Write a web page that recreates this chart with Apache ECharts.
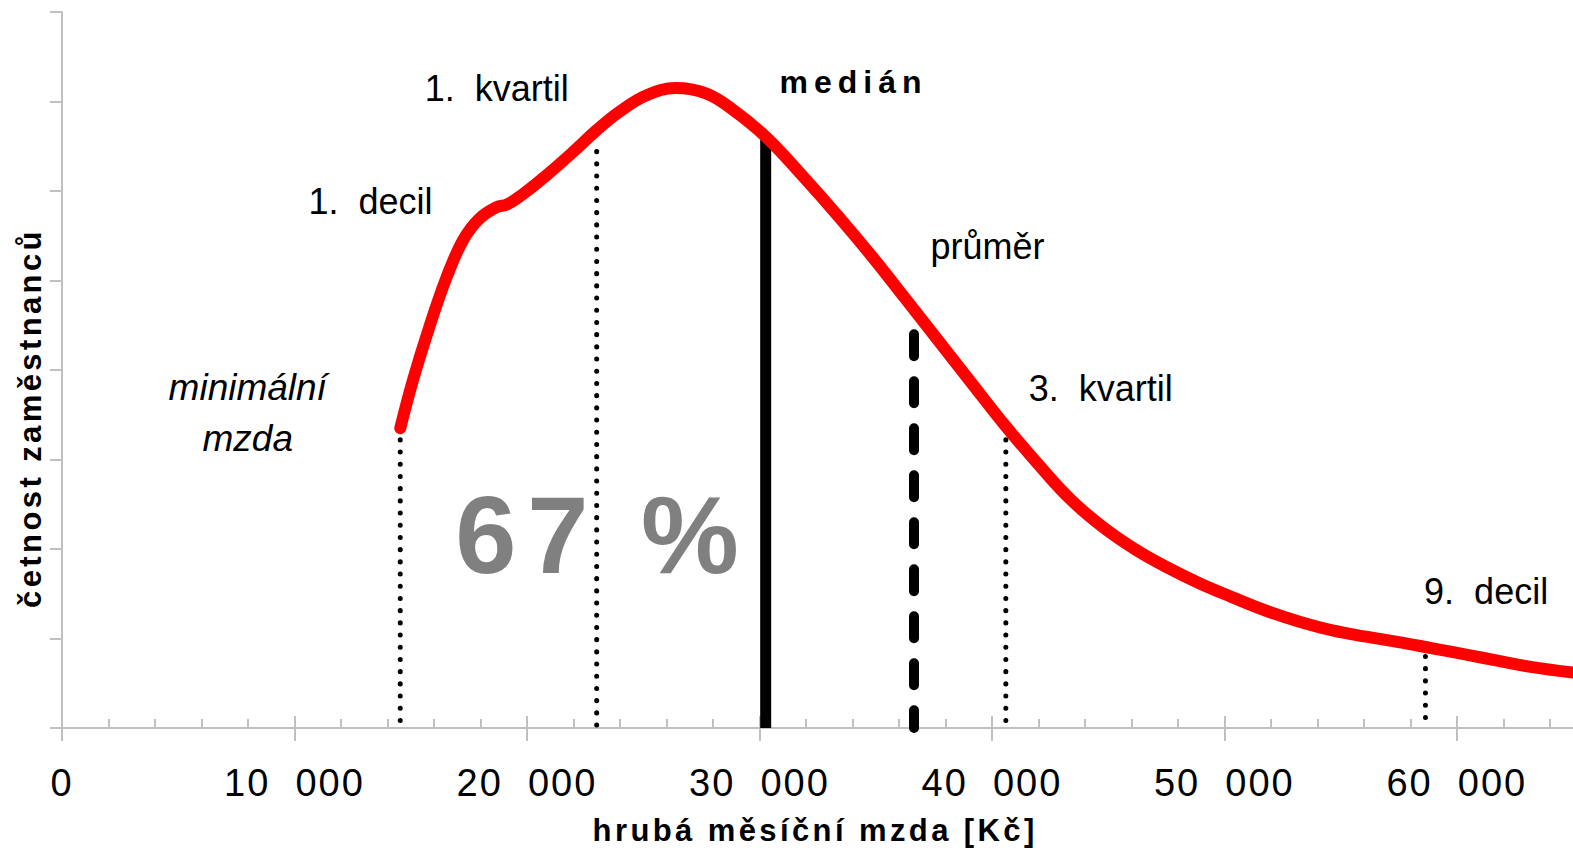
<!DOCTYPE html>
<html>
<head>
<meta charset="utf-8">
<title>Hrubá měsíční mzda</title>
<script src="https://cdn.jsdelivr.net/npm/echarts@6/dist/echarts.min.js"></script>
<style>
  html, body { margin: 0; padding: 0; background: #fff; }
  #chart { width: 1573px; height: 853px; }
  /* proložené písmo (svg renderer) */
  #chart text[style*="38px"] { letter-spacing: 2px; }
  #chart text[style*="31px"] { letter-spacing: 3.4px; }
  #chart text[style*="32px"] { letter-spacing: 6px; }
  #chart text[style*="110px"] { letter-spacing: 11px; }
</style>
</head>
<body>
<div id="chart"></div>
<script>
// křivka rozdělení mezd
const curveX = [14550, 15100, 15800, 16550, 17250, 17950, 18700, 19150, 19850, 20950,
  22000, 23000, 24000, 25150, 26400, 27700, 28850, 30300, 31850, 33450,
  34900, 36300, 37750, 39200, 40600, 42050, 43400, 44800, 46200, 47500,
  48900, 50350, 51800, 53200, 54650, 56100, 57500, 58950, 60400, 61800,
  63250, 65000];
const curveY = [3.35, 3.89, 4.48, 5.04, 5.45, 5.69, 5.82, 5.85, 5.97, 6.20,
  6.44, 6.68, 6.89, 7.07, 7.15, 7.09, 6.91, 6.60, 6.17, 5.70,
  5.25, 4.79, 4.31, 3.83, 3.37, 2.93, 2.55, 2.24, 1.99, 1.80,
  1.62, 1.46, 1.31, 1.19, 1.09, 1.02, 0.96, 0.89, 0.82, 0.75,
  0.68, 0.62];

// svislé čáry (minimální mzda, kvartily, medián, průměr, 9. decil)
const markerNames = ["minimální mzda", "1. kvartil", "medián", "průměr", "3. kvartil", "9. decil"];
const markerX = [14550, 23000, 30270, 36650, 40600, 58650];
const markerTop = [3.22, 6.44, 6.58, 4.40, 3.22, 0.80];
const markerKind = ["dotted", "dotted", "solid", "dashed", "dotted", "dotted"];

// popisky v grafu
const labelTexts = ["minimální\nmzda", "1.  decil", "1.  kvartil", "medián", "průměr", "3.  kvartil", "9.  decil", "67 %"];
const labelX = [7990, 13270, 18700, 34050, 39810, 44680, 61260, 23250];
const labelY = [3.52, 5.88, 7.15, 7.22, 5.38, 3.79, 1.52, 2.16];

// osa x
const xTicks = [0, 10000, 20000, 30000, 40000, 50000, 60000];

const FONT = "Liberation Sans";
const axisGray = "#c0c0c0";

const lineStyles = {
  dotted: { color: "#000", width: 5, type: [0.1, 12.1], cap: "round" },
  solid: { color: "#000", width: 11, type: "solid", cap: "butt" },
  dashed: { color: "#000", width: 10, type: [22, 25], cap: "round" }
};

const labelStyles = {
  "minimální\nmzda": { fontStyle: "italic", fontSize: 37, lineHeight: 51 },
  "medián": { fontWeight: "bold", fontSize: 32 },
  "67 %": { fontWeight: "bold", fontSize: 110, color: "#808080" }
};

const markerSeries = markerX.map((x, i) => ({
  type: "line",
  name: markerNames[i],
  data: [[x, markerTop[i]], [x, 0]],
  showSymbol: false,
  lineStyle: lineStyles[markerKind[i]],
  z: 2
}));

const labelData = labelTexts.map((t, i) => ({
  name: t,
  value: [labelX[i], labelY[i]],
  label: Object.assign(
    { fontSize: 36, color: "#000", textBorderWidth: 0, opacity: 1 },
    labelStyles[t] || {}
  )
}));

const titleStyle = {
  fontFamily: FONT,
  fontSize: 31,
  fontWeight: "bold",
  color: "#000"
};

const option = {
  animation: false,
  grid: {
    left: 62,
    right: -116.3,
    top: 12,
    bottom: 125,
    outerBoundsMode: "none"
  },
  xAxis: [
    {
      type: "value",
      min: 0,
      max: 70000,
      interval: 10000,
      position: "bottom",
      name: "hrubá měsíční mzda [Kč]",
      nameLocation: "middle",
      nameGap: 87,
      nameTextStyle: Object.assign({ padding: [0, 121, 0, 0] }, titleStyle),
      axisLine: { show: true, onZero: false, lineStyle: { color: axisGray, width: 2 } },
      axisTick: { show: true, inside: true, length: 12, lineStyle: { color: axisGray, width: 2 } },
      minorTick: { show: true, splitNumber: 5, length: 9, lineStyle: { color: axisGray, width: 2 } },
      axisLabel: {
        margin: 36,
        fontFamily: FONT,
        fontSize: 38,
        color: "#000",
        customValues: xTicks,
        formatter: (v) => (v === 0 ? "0" : v / 1000 + "  000")
      },
      splitLine: { show: false }
    },
    {
      // spodní část hlavních značek
      type: "value",
      min: 0,
      max: 70000,
      interval: 10000,
      position: "bottom",
      axisLine: { show: false },
      axisTick: { show: true, inside: false, length: 13, lineStyle: { color: axisGray, width: 2 } },
      axisLabel: { show: false },
      splitLine: { show: false }
    }
  ],
  yAxis: {
    type: "value",
    min: 0,
    max: 8,
    interval: 1,
    name: "četnost zaměstnanců",
    nameLocation: "middle",
    nameGap: 16,
    nameTextStyle: Object.assign({ padding: [0, 96, 0, 0] }, titleStyle),
    axisLine: { show: true, onZero: false, lineStyle: { color: axisGray, width: 2 } },
    axisTick: { show: true, length: 12, lineStyle: { color: axisGray, width: 2 } },
    axisLabel: { show: false },
    splitLine: { show: false }
  },
  textStyle: { fontFamily: FONT },
  series: [
    ...markerSeries,
    {
      type: "line",
      name: "četnost",
      data: curveX.map((x, i) => [x, curveY[i]]),
      smooth: 0.4,
      showSymbol: false,
      lineStyle: { color: "#ff0000", width: 12, cap: "round", join: "round" },
      z: 5
    },
    {
      type: "scatter",
      name: "popisky",
      data: labelData,
      symbolSize: 1,
      itemStyle: { color: "rgba(0,0,0,0)", opacity: 1 },
      label: {
        show: true,
        position: "inside",
        fontFamily: FONT,
        color: "#000",
        textBorderWidth: 0,
        opacity: 1,
        formatter: "{b}"
      },
      z: 6
    }
  ]
};

const chart = echarts.init(document.getElementById("chart"), null, { renderer: "svg" });
chart.setOption(option);
</script>
</body>
</html>
